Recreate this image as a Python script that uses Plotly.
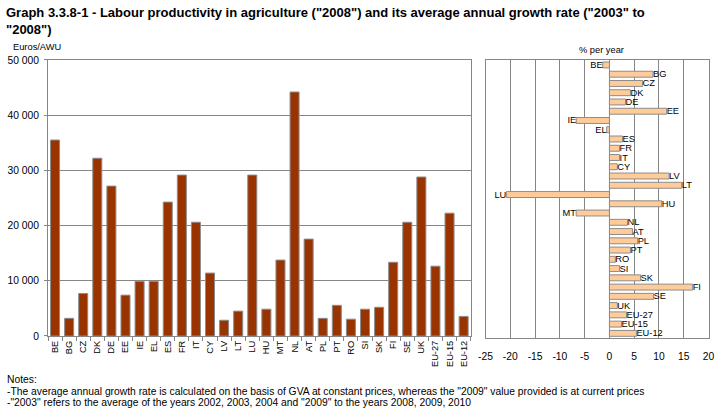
import plotly.graph_objects as go

countries = ["BE", "BG", "CZ", "DK", "DE", "EE", "IE", "EL", "ES", "FR", "IT", "CY", "LV", "LT", "LU",
             "HU", "MT", "NL", "AT", "PL", "PT", "RO", "SI", "SK", "FI", "SE", "UK", "EU-27", "EU-15", "EU-12"]
productivity_2008 = [35500, 3200, 7700, 32200, 27150, 7400, 9900, 9900, 24250, 29150, 20600, 11400, 2850, 4500, 29150,
                     4850, 13750, 44200, 17550, 3200, 5550, 3050, 4850, 5200, 13350, 20600, 28800, 12650, 22250, 3550]
growth_rate = [-1.35, 8.8, 6.7, 4.25, 3.25, 11.55, -6.7, -0.55, 2.65, 2.05, 2.05, 1.6, 12.05, 14.6, -20.8,
               10.55, -6.7, 3.65, 4.65, 5.7, 4.25, 1.2, 2.05, 6.3, 16.8, 8.9, 1.6, 3.45, 2.45, 5.45]
growth_ticks = [-25, -20, -15, -10, -5, 0, 5, 10, 15, 20]

title_text = ("Graph 3.3.8-1 - Labour productivity in agriculture (\"2008\") and its average annual growth rate "
              "(\"2003\" to<br>\"2008\")")
left_unit = "Euros/AWU"
right_unit = "% per year"
notes = ["Notes:",
         "-The average annual growth rate is calculated on the basis of GVA at constant prices, whereas the \"2009\" value provided is at current prices",
         "-\"2003\" refers to the average of the years 2002, 2003, 2004 and \"2009\" to the years 2008, 2009, 2010"]

FONT = "Liberation Sans, Arial, sans-serif"
GRID = "#868686"

fig = go.Figure()
fig.add_trace(go.Bar(
    x=countries, y=productivity_2008, xaxis="x", yaxis="y",
    marker=dict(color="#993300", line=dict(color="#8c8c8c", width=1)),
    showlegend=False, hoverinfo="x+y"))
fig.add_trace(go.Bar(
    x=growth_rate, y=countries, orientation="h", xaxis="x2", yaxis="y2",
    marker=dict(color="#FFCC99", line=dict(color="#8c8c8c", width=1)),
    text=countries, texttemplate="%{text}", textposition="outside", constraintext="none",
    textfont=dict(family=FONT, size=9.3, color="black"), cliponaxis=False,
    showlegend=False, hoverinfo="x+y"))

fig.update_layout(
    width=724, height=418,
    margin=dict(l=0, r=0, t=0, b=0),
    paper_bgcolor="white", plot_bgcolor="white",
    font=dict(family=FONT, size=10, color="black"),
    separators=", ",
    bargap=0.36,
    xaxis=dict(domain=[0.0663, 0.6501], anchor="y", type="category", automargin=False,
               tickangle=-90, ticks="outside", tickson="boundaries", ticklen=4, tickcolor=GRID,
               showline=True, linecolor=GRID, linewidth=1, mirror=True,
               tickfont=dict(size=9.3), showgrid=False),
    yaxis=dict(domain=[0.1962, 0.8565], anchor="x", range=[0, 50000], dtick=10000, automargin=False,
               tickformat=",d", ticks="outside", ticklen=3, tickcolor=GRID, ticklabelstandoff=3,
               showline=True, linecolor=GRID, linewidth=1, mirror=True,
               showgrid=True, gridcolor=GRID, gridwidth=1, zeroline=False,
               tickfont=dict(size=10.3)),
    xaxis2=dict(domain=[0.6706, 0.9786], anchor="y2", range=[-25, 20], automargin=False,
                tickvals=growth_ticks, ticktext=[str(v) for v in growth_ticks],
                showgrid=True, gridcolor=GRID, gridwidth=1, zeroline=False,
                showline=True, linecolor=GRID, linewidth=1, mirror=True,
                ticks="", ticklabelstandoff=9, tickfont=dict(size=10.3)),
    yaxis2=dict(domain=[0.1914, 0.8557], anchor="x2", type="category", automargin=False,
                autorange="reversed", showticklabels=False, showgrid=False,
                showline=True, linecolor=GRID, linewidth=1, mirror=True, ticks=""),
)

annotations = [
    dict(text="<b>" + title_text + "</b>", x=0.006, y=1 - 3 / 418, xref="paper", yref="paper",
         xanchor="left", yanchor="top", align="left", showarrow=False,
         font=dict(size=13, family=FONT)),
    dict(text=left_unit, x=11 / 724, y=1 - 47 / 418, xref="paper", yref="paper",
         xanchor="left", yanchor="middle", showarrow=False, font=dict(size=9.3)),
    dict(text=right_unit, x=601 / 724, y=1 - 50 / 418, xref="paper", yref="paper",
         xanchor="center", yanchor="middle", showarrow=False, font=dict(size=9.3)),
]
for line, yc in zip(notes, [379, 391, 402]):
    annotations.append(dict(text=line, x=5 / 724, y=1 - yc / 418, xref="paper", yref="paper",
                            xanchor="left", yanchor="middle", showarrow=False,
                            font=dict(size=10.3)))
fig.update_layout(annotations=annotations)

fig.write_html("out.html", config={"displayModeBar": False},
               post_script="document.body.style.margin='0';document.body.style.padding='0';")
